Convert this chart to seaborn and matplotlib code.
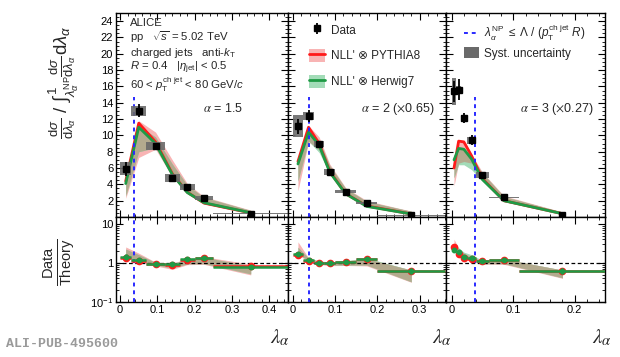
import numpy as np
import pandas as pd
import seaborn as sns
import matplotlib.pyplot as plt
from matplotlib.patches import Patch
from matplotlib.lines import Line2D
from matplotlib.ticker import MultipleLocator, AutoMinorLocator, LogLocator, NullFormatter, FixedLocator, FixedFormatter

sns.set_theme(style="ticks")
plt.rcParams['font.family'] = ['Liberation Sans', 'DejaVu Sans']
plt.rcParams['mathtext.fontset'] = 'custom'
plt.rcParams['mathtext.rm'] = 'Liberation Sans'
plt.rcParams['mathtext.it'] = 'Liberation Sans:italic'
plt.rcParams['mathtext.bf'] = 'Liberation Sans:bold'

# alpha = 1.5
bins_15 = [0.0, 0.03, 0.07, 0.12, 0.16, 0.20, 0.25, 0.45]
data_15 = [5.9, 13.0, 8.7, 4.8, 3.7, 2.3, 0.42]
stat_15 = [0.85, 0.8, 0.35, 0.3, 0.25, 0.15, 0.05]
syst_15 = [0.8, 0.6, 0.45, 0.5, 0.35, 0.25, 0.1]
py_15 = [4.4, 11.5, 9.2, 5.3, 3.05, 1.7, 0.5]
py_lo_15 = [2.3, 7.3, 8.3, 4.9, 2.85, 1.6, 0.45]
py_hi_15 = [4.6, 11.8, 10.4, 7.0, 4.1, 2.5, 0.85]
hw_15 = [4.1, 11.0, 9.0, 5.2, 3.0, 1.75, 0.52]
hw_lo_15 = [2.6, 8.0, 8.5, 5.0, 2.9, 1.65, 0.5]
hw_hi_15 = [4.3, 11.2, 9.8, 6.5, 3.9, 2.4, 0.8]

# alpha = 2 (x0.65)
bins_2 = [0.0, 0.025, 0.05, 0.075, 0.10, 0.15, 0.20, 0.36]
data_2 = [11.1, 12.4, 8.95, 5.55, 3.1, 1.68, 0.23]
stat_2 = [0.9, 0.7, 0.35, 0.3, 0.2, 0.12, 0.04]
syst_2 = [1.35, 0.5, 0.4, 0.35, 0.15, 0.1, 0.05]
py_2 = [6.8, 11.0, 9.0, 5.6, 2.85, 1.35, 0.37]
py_lo_2 = [3.2, 9.2, 8.2, 5.4, 2.75, 1.3, 0.35]
py_hi_2 = [7.0, 11.2, 9.8, 6.5, 3.6, 2.0, 0.72]
hw_2 = [6.5, 10.4, 8.8, 5.5, 2.85, 1.3, 0.37]
hw_lo_2 = [4.4, 9.3, 7.9, 5.3, 2.75, 1.25, 0.35]
hw_hi_2 = [6.7, 10.6, 9.4, 6.3, 3.5, 1.9, 0.7]

# alpha = 3 (x0.27)
bins_3 = [0.0, 0.008, 0.015, 0.025, 0.04, 0.06, 0.11, 0.25]
data_3 = [15.4, 15.6, 12.1, 9.4, 5.15, 2.4, 0.25]
stat_3 = [1.3, 1.3, 0.6, 0.6, 0.25, 0.12, 0.04]
syst_3 = [1.65, 0.45, 0.4, 0.4, 0.4, 0.1, 0.05]
py_3 = [6.0, 9.3, 9.2, 7.5, 4.7, 2.0, 0.4]
py_lo_3 = [3.8, 6.6, 6.8, 6.6, 4.5, 1.9, 0.38]
py_hi_3 = [6.2, 9.5, 9.4, 7.7, 5.5, 2.6, 0.62]
hw_3 = [7.0, 8.4, 8.3, 7.1, 4.6, 2.0, 0.4]
hw_lo_3 = [4.8, 6.4, 6.4, 5.8, 4.4, 1.9, 0.38]
hw_hi_3 = [7.2, 8.6, 8.5, 7.3, 5.4, 2.5, 0.6]

lambda_np = 0.0375
alpha_labels = [r"$\alpha$ = 1.5", r"$\alpha$ = 2 ($\times$0.65)", r"$\alpha$ = 3 ($\times$0.27)"]
xlims = [(-0.011, 0.45), (-0.011, 0.362), (-0.009, 0.249)]
xticks = [[0, 0.1, 0.2, 0.3, 0.4], [0, 0.1, 0.2, 0.3], [0, 0.1, 0.2]]

panels = [
    (bins_15, data_15, stat_15, syst_15, py_15, py_lo_15, py_hi_15, hw_15, hw_lo_15, hw_hi_15),
    (bins_2, data_2, stat_2, syst_2, py_2, py_lo_2, py_hi_2, hw_2, hw_lo_2, hw_hi_2),
    (bins_3, data_3, stat_3, syst_3, py_3, py_lo_3, py_hi_3, hw_3, hw_lo_3, hw_hi_3),
]

RED = '#ff1a1a'
GREEN = '#1f9a45'
PINK = '#f8b4b4'
LGREEN = '#a3dcb8'
OLIVE = '#b3aa8e'
SYST = '#6a6a6a'
BLUE = '#2a2aff'

fig = plt.figure(figsize=(6.2, 3.57), dpi=100)
xs = [(116, 288), (288, 446), (446, 605)]
W, H = 620, 357


def style_axis(ax):
    for s in ax.spines.values():
        s.set_linewidth(1.0)
        s.set_color('black')
    ax.tick_params(which='both', direction='in', top=True, right=True, colors='black',
                   labelsize=8, pad=2)
    ax.tick_params(which='major', length=5, width=0.8)
    ax.tick_params(which='minor', length=2.5, width=0.6)


for i, (bins, data, stat, syst, py, py_lo, py_hi, hw, hw_lo, hw_hi) in enumerate(panels):
    bins = np.array(bins)
    cen = 0.5 * (bins[1:] + bins[:-1])
    wid = bins[1:] - bins[:-1]
    data = np.array(data)
    py, py_lo, py_hi = map(np.array, (py, py_lo, py_hi))
    hw, hw_lo, hw_hi = map(np.array, (hw, hw_lo, hw_hi))

    x0, x1 = xs[i]
    top = fig.add_axes([x0 / W, 1 - 217 / H, (x1 - x0) / W, 204 / H])
    bot = fig.add_axes([x0 / W, 1 - 302 / H, (x1 - x0) / W, 85 / H])

    # ---- top panel
    top.fill_between(cen, py_lo, py_hi, color=PINK, lw=0, zorder=1)
    top.fill_between(cen, hw_lo, hw_hi, color=LGREEN, lw=0, zorder=1.1)
    top.fill_between(cen, np.maximum(py_lo, hw_lo), np.minimum(py_hi, hw_hi),
                     where=np.minimum(py_hi, hw_hi) > np.maximum(py_lo, hw_lo),
                     color=OLIVE, lw=0, zorder=1.2, interpolate=True)
    df = pd.DataFrame({'lam': cen, 'py': py, 'hw': hw})
    sns.lineplot(data=df, x='lam', y='py', color=RED, lw=2, ax=top, zorder=2)
    sns.lineplot(data=df, x='lam', y='hw', color=GREEN, lw=2, ax=top, zorder=2.1)
    top.vlines(lambda_np, 0, 14.7, colors=BLUE, linestyles=(0, (2, 2)), lw=1.4, zorder=3)
    top.bar(cen, 2 * np.array(syst), width=wid, bottom=data - np.array(syst),
            color=SYST, alpha=0.9, lw=0, zorder=4)
    top.errorbar(cen, data, yerr=stat, fmt='s', color='black', ms=4.5, elinewidth=1.3,
                 capsize=0, zorder=5)
    top.set_xlim(*xlims[i])
    top.set_ylim(0, 25)
    top.yaxis.set_major_locator(FixedLocator(np.arange(2, 25, 2)))
    top.yaxis.set_minor_locator(MultipleLocator(0.5))
    top.xaxis.set_major_locator(MultipleLocator(0.1))
    top.xaxis.set_minor_locator(AutoMinorLocator(5))
    top.set_xticklabels([])
    top.set_xlabel('')
    top.set_ylabel('')
    if i > 0:
        top.set_yticklabels([])
    style_axis(top)

    # ---- ratio panel
    r_py = data / py
    r_hw = data / hw
    bot.fill_between(cen, data / py_hi, data / py_lo, color=PINK, lw=0, zorder=1)
    bot.fill_between(cen, data / hw_hi, data / hw_lo, color=LGREEN, lw=0, zorder=1.1)
    lo_o = np.maximum(data / py_hi, data / hw_hi)
    hi_o = np.minimum(data / py_lo, data / hw_lo)
    bot.fill_between(cen, lo_o, hi_o, where=hi_o > lo_o, color=OLIVE, lw=0, zorder=1.2,
                     interpolate=True)
    bot.axhline(1, color='black', ls=(0, (3, 2)), lw=0.9, zorder=2)
    bot.axvline(lambda_np, color=BLUE, ls=(0, (2, 2)), lw=1.4, zorder=3)
    bot.errorbar(cen, r_py, xerr=wid / 2, yerr=np.array(stat) / py, fmt='o', color=RED,
                 ms=4.5, elinewidth=1.8, capsize=0, zorder=4)
    bot.errorbar(cen, r_hw, xerr=wid / 2, yerr=np.array(stat) / hw, fmt='o', color=GREEN,
                 ms=3.2, elinewidth=1.8, capsize=0, zorder=5)
    bot.set_yscale('log')
    bot.set_ylim(0.1, 15)
    bot.set_xlim(*xlims[i])
    bot.set_xticks(xticks[i])
    bot.set_xticklabels([f"{t:g}" for t in xticks[i]])
    bot.xaxis.set_minor_locator(AutoMinorLocator(5))
    bot.yaxis.set_major_locator(FixedLocator([0.1, 1, 10]))
    bot.yaxis.set_minor_locator(LogLocator(base=10, subs=np.arange(2, 10)))
    bot.yaxis.set_minor_formatter(NullFormatter())
    if i == 0:
        bot.yaxis.set_major_formatter(FixedFormatter([r"$10^{-1}$", "1", "10"]))
    else:
        bot.set_yticklabels([])
    style_axis(bot)

    top.text(*( (0.506, 0.53) if i == 0 else (0.93 if i == 1 else 0.925, 0.53) ),
             alpha_labels[i], transform=top.transAxes, fontsize=9,
             ha='left' if i == 0 else 'right', va='center', math_fontfamily='stix')

    fig.text([290, 452, 612][i] / W, 1 - 338 / H, r"$\lambda_{\alpha}$", fontsize=15,
             ha='right', va='center', math_fontfamily='stix')

    if i == 0:
        info = ["ALICE", r"pp   $\sqrt{s}$ = 5.02 TeV", r"charged jets   anti-$k_{\rm T}$",
                r"$R$ = 0.4   |$\eta_{\rm jet}$| < 0.5",
                r"60 < $p_{\rm T}^{\rm ch\ jet}$ < 80 GeV/$c$"]
        for t, yp in zip(info, [26, 41, 56, 70, 89]):
            top.text(0.081, (217 - yp) / 204, t, transform=top.transAxes, fontsize=8.2,
                     ha='left', va='baseline')
    if i == 1:
        h_data = top.errorbar([], [], yerr=[], fmt='s', color='black', ms=4.5,
                              elinewidth=1.3, capsize=0)
        h_py = (Patch(color=PINK, lw=0), Line2D([], [], color=RED, lw=2))
        h_hw = (Patch(color=LGREEN, lw=0), Line2D([], [], color=GREEN, lw=2))
        top.legend([h_data, h_py, h_hw],
                   ["Data", "NLL' \u2297 PYTHIA8", "NLL' \u2297 Herwig7"],
                   loc='upper left', bbox_to_anchor=(0.08, 0.99), frameon=False,
                   fontsize=8.5, labelspacing=1.05, handlelength=1.4,
                   handleheight=1.3, handletextpad=0.45, borderpad=0.2)
    if i == 2:
        h_np = Line2D([], [], color=BLUE, ls=(0, (2, 2)), lw=1.4)
        h_sy = Patch(color=SYST, lw=0)
        top.legend([h_np, h_sy],
                   [r"$\lambda_{\alpha}^{\rm NP}$ $\leq$ $\Lambda$ / ($p_{\rm T}^{\rm ch\ jet}$ $R$)",
                    "Syst. uncertainty"],
                   loc='upper left', bbox_to_anchor=(0.06, 0.99), frameon=False,
                   fontsize=8.5, labelspacing=0.3, handlelength=1.3, handleheight=1.1,
                   handletextpad=0.45, borderpad=0.2)

fig.text(64 / W, 1 - 82 / H,
         r"$\frac{\mathrm{d}\sigma}{\mathrm{d}\lambda_{\alpha}}$ / "
         r"$\int_{\lambda_{\alpha}^{\rm NP}}^{1}\frac{\mathrm{d}\sigma}{\mathrm{d}\lambda_{\alpha}}\mathrm{d}\lambda_{\alpha}$",
         rotation=90, fontsize=13.5, ha='center', va='center')
fig.text(60 / W, 1 - 262 / H, r"$\frac{\rm Data}{\rm Theory}$", rotation=90, fontsize=15,
         ha='center', va='center')
fig.text(6 / W, 1 - 344 / H, "ALI-PUB-495600", fontsize=9.5, family='Liberation Mono',
         fontweight='bold', color='#9a9a9a', ha='left', va='center')

fig.savefig('out.png', dpi=100)
